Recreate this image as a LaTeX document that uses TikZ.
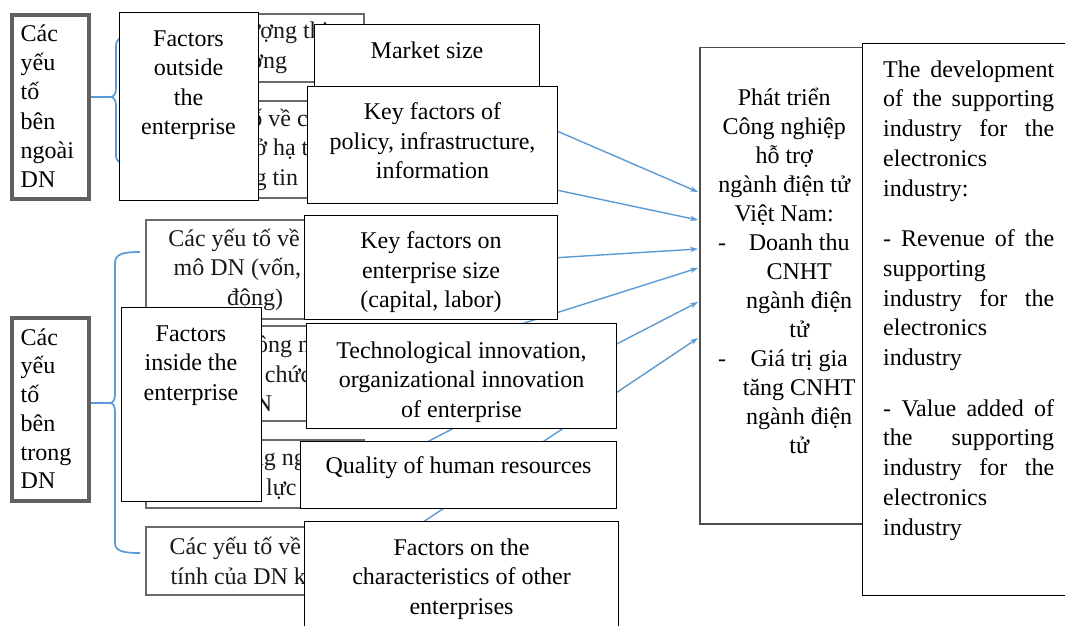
\documentclass[tikz,border=0pt]{standalone}
\usepackage{fontspec}
\setmainfont{Liberation Serif}
\usetikzlibrary{arrows.meta}
\definecolor{lineblue}{HTML}{5B9BD5}
\newcommand\dgfont{\fontsize{24}{29.5}\selectfont}
\newcommand\ctrline[1]{\makebox[138pt][c]{#1}}
\newcommand\listline[2]{\makebox[30pt][l]{\hspace{3pt}#1}\makebox[108pt][c]{#2}}
\begin{document}
\begin{tikzpicture}[x=1pt,y=-1pt,
  vbox/.style={draw=black!58, line width=2pt, fill=white, anchor=north west, inner sep=0pt, align=center, font=\dgfont, text=black!90, minimum width=218pt},
  ebox/.style={draw=black, line width=1.1pt, fill=white, anchor=north west, inner sep=0pt, align=center, font=\dgfont},
  sidebox/.style={draw=black!62, line width=3.6pt, fill=white, anchor=north west, inner sep=0pt},
  brace/.style={draw=lineblue, line width=1.7pt},
  link/.style={draw=lineblue, line width=1.4pt, -{Stealth[length=8pt,width=5.5pt]}},
  txt/.style={inner sep=0pt, align=center, font=\dgfont}
]
\clip (0,0) rectangle (1065,626);
\fill[white] (0,0) rectangle (1065,626);

% Vietnamese boxes (underneath)
\node[vbox, minimum height=68pt] (v1) at (145,13) {Dung lượng thị\\trường};
\node[vbox, minimum height=97pt] (v2) at (145,100) {Các yếu tố về chính\\sách, cơ sở hạ tầng,\\thông tin};
\node[vbox, minimum height=99pt] (v3) at (145,219) {Các yếu tố về quy\\mô DN (vốn, lao\\động)};
\node[vbox, minimum height=95pt] (v4) at (145,325) {Đổi mới công nghệ,\\đổi mới tổ chức của\\DN};
\node[vbox, minimum height=68pt] (v5) at (145,439) {Chất lượng nguồn\\nhân lực};
\node[vbox, minimum height=68pt] (v6) at (145,526) {Các yếu tố về đặc\\tính của DN khác};

% central box
\node[draw=black!70, line width=1.5pt, fill=white, anchor=north west, inner sep=0pt, minimum width=171pt, minimum height=476pt] (dev) at (699,47) {};

% arrow ends on the central box
\coordinate (e1) at (698,192);
\coordinate (e2) at (698,220);
\coordinate (e3) at (698,249);
\coordinate (e4) at (698,268);
\coordinate (e5) at (698,302);
\coordinate (e6) at (698,338);
\draw[link] (v1.east) -- (e1);
\draw[link] (v2.east) -- (e2);
\draw[link] (v3.east) -- (e3);
\draw[link] (v4.east) -- (e4);
\draw[link] (v5.east) -- (e5);
\draw[link] (v6.east) -- (e6);

% left boxes
\node[sidebox, minimum width=77pt, minimum height=184pt] (lb1) at (10,13) {};
\node[sidebox, minimum width=77pt, minimum height=183pt] (lb2) at (10,316) {};
\node[anchor=north west, inner sep=0pt, align=left, font=\fontsize{24}{29.3}\selectfont] (lb1t) at (20.5,21) {\rule{0pt}{20pt}Các\\yếu\\tố\\bên\\ngoài\\DN};
\node[anchor=north west, inner sep=0pt, align=left, font=\fontsize{24}{28.7}\selectfont] (lb2t) at (20.5,325) {\rule{0pt}{20pt}Các\\yếu\\tố\\bên\\trong\\DN};

% braces
\coordinate (b1tip) at (110,97);
\coordinate (b2tip) at (110,403);
\draw[brace] (lb1.east |- b1tip) -- (b1tip);
\draw[brace] (lb2.east |- b2tip) -- (b2tip);
\draw[brace] (140,35) .. controls (124,35) and (116,37) .. (116,46) -- (116,88) .. controls (116,94) and (114,97) .. (b1tip) .. controls (114,97) and (116,100) .. (116,106) -- (116,156) .. controls (116,163) and (124,165) .. (140,165);
\draw[brace] (140,252) .. controls (123,252) and (115,254) .. (115,263) -- (115,394) .. controls (115,400) and (113,403) .. (b2tip) .. controls (113,403) and (115,406) .. (115,412) -- (115,543) .. controls (115,551) and (123,553) .. (140,553);

% English boxes (on top)
\node[ebox, minimum width=139pt, minimum height=188pt] (fo) at (119,12) {};
\node[txt, anchor=north] (fot) at (188.5,26) {\rule{0pt}{20pt}Factors\\outside\\the\\enterprise};
\node[ebox, minimum width=140pt, minimum height=194pt] (fi) at (121,307) {};
\node[txt, anchor=north] (fit) at (191,321) {\rule{0pt}{20pt}Factors\\inside the\\enterprise};
\node[ebox, minimum width=225pt, minimum height=62pt, text depth=10pt] (ms) at (314,24) {Market size};
\node[ebox, minimum width=250pt, minimum height=117pt] (kp) at (307,86) {};
\node[txt, yshift=4pt] (kpt) at (kp.center) {Key factors of\\policy, infrastructure,\\information};
\node[ebox, minimum width=253pt, minimum height=104pt] (ks) at (304,215) {};
\node[txt, yshift=-5pt] (kst) at (ks.center) {Key factors on\\enterprise size\\(capital, labor)};
\node[ebox, minimum width=310pt, minimum height=105pt] (ti) at (306,323) {};
\node[txt, yshift=-6pt] (tit) at (ti.center) {Technological innovation,\\organizational innovation\\of enterprise};
\node[ebox, minimum width=316pt, minimum height=67pt, text depth=20pt] (qh) at (300,441) {Quality of human resources};
\node[ebox, minimum width=314pt, minimum height=111pt] (fc) at (304,521) {};
\node[txt, yshift=-2pt] (fct) at (fc.center) {Factors on the\\characteristics of other\\enterprises};

% central text
\node[anchor=north west, inner sep=0pt, align=left, font=\fontsize{24}{29}\selectfont] (devt) at (715,81) {\rule{0pt}{24pt}\ctrline{Phát triển}\\\ctrline{Công nghiệp}\\\ctrline{hỗ trợ}\\\ctrline{ngành điện tử}\\\ctrline{Việt Nam:}\\\listline{-}{Doanh thu}\\\listline{}{CNHT}\\\listline{}{ngành điện}\\\listline{}{tử}\\\listline{-}{Giá trị gia}\\\listline{}{tăng CNHT}\\\listline{}{ngành điện}\\\listline{}{tử}};

% right box
\node[draw=black, line width=1.2pt, fill=white, anchor=north west, inner sep=0pt, minimum width=215pt, minimum height=552pt] (res) at (862,43) {};
\node[anchor=north west, inner sep=0pt, align=left, font=\fontsize{24}{29.7}\selectfont] (rest) at (883,57) {\rule{0pt}{20pt}\makebox[171pt][s]{The development}\\\makebox[171pt][s]{of the supporting}\\\makebox[171pt][s]{industry for the}\\electronics\\industry:\\[21pt]\makebox[171pt][s]{- Revenue of the}\\supporting\\\makebox[171pt][s]{industry for the}\\electronics\\industry\\[21pt]\makebox[171pt][s]{- Value added of}\\\makebox[171pt][s]{the supporting}\\\makebox[171pt][s]{industry for the}\\electronics\\industry};
\end{tikzpicture}
\end{document}
